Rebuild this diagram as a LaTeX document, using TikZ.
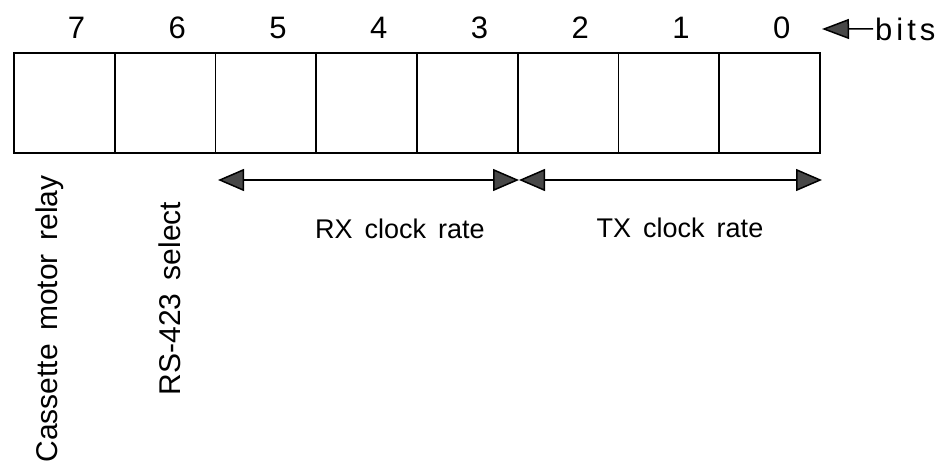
\documentclass[tikz,border=0pt]{standalone}
\usepackage{fontspec}
\setmainfont{Liberation Sans}[WordSpace=1.6]
\usetikzlibrary{arrows.meta}
\definecolor{tipgray}{RGB}{72,72,72}
\begin{document}
\begin{tikzpicture}[x=1pt,y=-1pt,
  cell/.style={draw, line width=1.8pt, minimum width=100.75pt, minimum height=100pt, inner sep=0pt, outer sep=0pt},
  bitnum/.style={font=\fontsize{31}{36}\selectfont, inner sep=0pt},
  caption/.style={font=\fontsize{27}{31}\selectfont, inner sep=0pt},
  sidecap/.style={font=\fontsize{30}{36}\selectfont, inner sep=0pt, rotate=90, anchor=base},
  span/.style={line width=1.5pt, {Triangle[length=26pt,width=22pt,fill=tipgray]}-{Triangle[length=26pt,width=22pt,fill=tipgray]}},
  pointer/.style={line width=1.5pt, -{Triangle[length=27pt,width=20pt,fill=tipgray]}}]
\useasboundingbox (0,0) rectangle (943,466);

% register cells, bit 7 on the left
\foreach \b [evaluate=\b as \k using 7-\b] in {7,...,0} {
  \node[cell] (b\b) at ({14+100.75*(\k+0.5)},103) {};
  \node[bitnum] (d\b) at ({26+100.75*(\k+0.5)},28) {\b};
}

% "bits" pointer
\node[bitnum, anchor=base west, inner xsep=2pt] (bits) at (873,40) {b\kern4pt i\kern4pt t\kern4pt s};
\coordinate (bitstip) at (822,29);
\draw[pointer] (bits.west) -- (bitstip);

% field spans
\coordinate (rxl) at (218,180);
\coordinate (mid) at (519,180);
\coordinate (txr) at (822,180);
\draw[span] (rxl) -- (mid);
\draw[span] (mid) -- (txr);

\node[caption, anchor=base] (rx) at (400,238) {RX clock rate};
\node[caption, anchor=base] (tx) at (680,237) {TX clock rate};

% single-bit fields
\node[sidecap] (cmr) at (57,319) {Cassette motor relay};
\node[sidecap] (rs) at (180,298.5) {RS-423 select};
\end{tikzpicture}
\end{document}
